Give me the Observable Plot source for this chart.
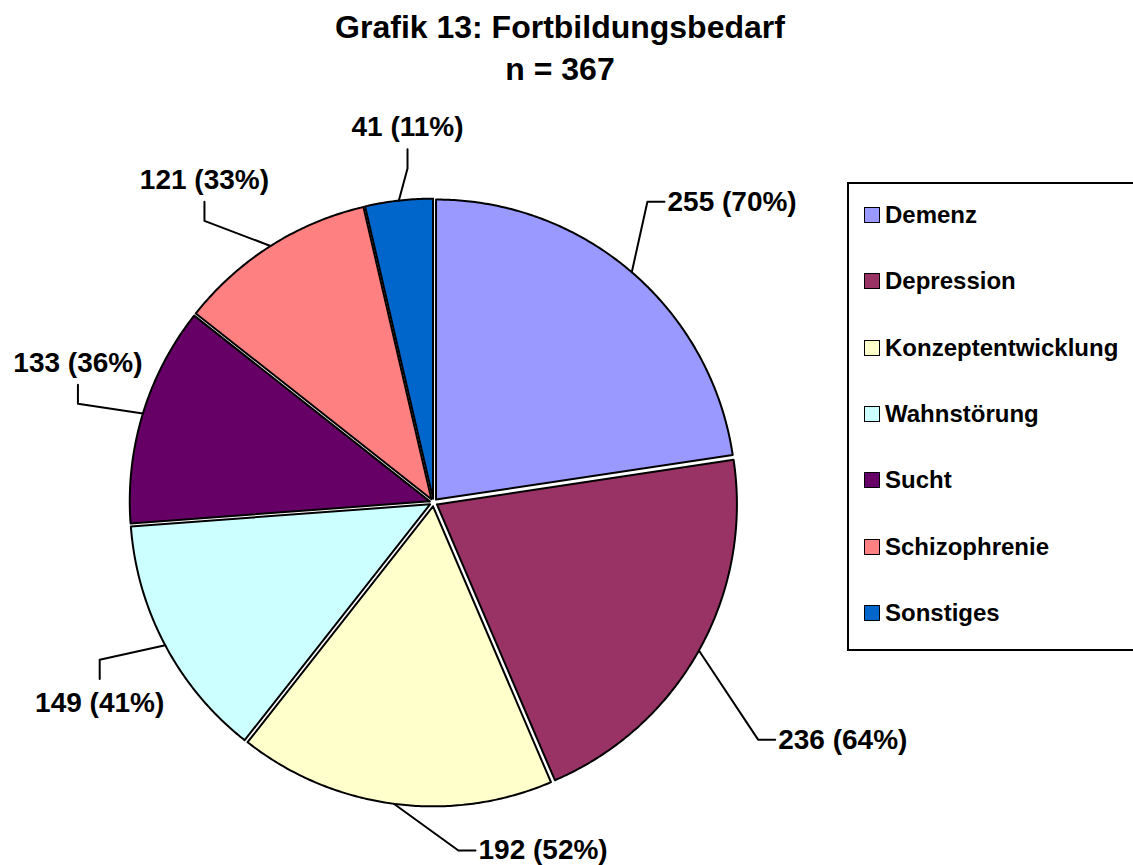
<!DOCTYPE html>
<html><head><meta charset="utf-8">
<script src="https://cdn.jsdelivr.net/npm/d3@7"></script>
<script src="https://cdn.jsdelivr.net/npm/@observablehq/plot@0.6"></script>
<style>
body{margin:0;background:#fff;font-family:"Liberation Sans",Arial,sans-serif;}
#wrap{position:relative;width:1133px;height:865px;overflow:hidden;background:#fff;}
#title{height:100px;box-sizing:border-box;padding-top:6px;padding-right:13px;text-align:center;font-weight:bold;font-size:32px;line-height:42px;color:#000;}
#legend{position:absolute;left:847px;top:182px;width:320px;height:469px;box-sizing:border-box;border:2px solid #000;background:#fff;}
.item{position:absolute;left:15px;height:26px;display:flex;align-items:center;font-weight:bold;font-size:24px;color:#000;white-space:nowrap;}
.sw{width:14px;height:14px;border:1.5px solid #000;margin-right:5px;flex:none;}
</style></head><body>
<div id="wrap">
<div id="title"><div>Grafik 13: Fortbildungsbedarf</div><div>n = 367</div></div>
<div id="chart"></div>
<div id="legend"></div>
</div>
<script>
// ---- data ----
const n = 367;
const categories = ["Demenz","Depression","Konzeptentwicklung","Wahnstörung","Sucht","Schizophrenie","Sonstiges"];
const counts = [255, 236, 192, 149, 133, 121, 41];
const percents = [70, 64, 52, 41, 36, 33, 11];
const colors = ["#9999FF","#993366","#FFFFCC","#CCFFFF","#660066","#FF8080","#0066CC"];

// ---- layout (label placement like the spreadsheet's best-fit) ----
const labelNudgeDeg = [-5.3, 7.0, -11.6, 2.8, -1.5, -6.7, 2.1];
const labelReach = [1.23, 1.34, 1.163, 1.23, 1.23, 1.21, 1.117];
const W = 1133, H = 765, R = 300, cx = 433, cy = 402;
const explode = 0.013, tail = 0.057, tick = 0.064;

const arcs = d3.pie().sort(null).value(d => d)(counts);
const pt = (a, r, o = [0, 0]) => ({x: o[0] + r * Math.sin(a), y: o[1] + r * Math.cos(a)});

const slicePts = [];
const leaderPts = [];
const rightLabels = [], upLabels = [], downLabels = [];
arcs.forEach((a, i) => {
  const cat = categories[i];
  const mid = (a.startAngle + a.endAngle) / 2;
  const off = [explode * Math.sin(mid), explode * Math.cos(mid)];
  const steps = Math.max(4, Math.ceil((a.endAngle - a.startAngle) / (Math.PI / 360)));
  slicePts.push({...pt(0, 0, off), cat});
  for (let k = 0; k <= steps; k++) {
    const ang = a.startAngle + (a.endAngle - a.startAngle) * k / steps;
    slicePts.push({...pt(ang, 1, off), cat});
  }
  slicePts.push({...pt(0, 0, off), cat});

  const la = mid + labelNudgeDeg[i] * Math.PI / 180;
  const start = pt(mid, 1 + explode);
  const elbow = pt(la, labelReach[i]);
  let end;
  const text = `${counts[i]} (${percents[i]}%)`;
  if (la < Math.PI) {
    end = {x: elbow.x + tail, y: elbow.y};
    rightLabels.push({...end, text});
  } else if (Math.cos(la) > 0) {
    end = {x: elbow.x, y: elbow.y + tick};
    upLabels.push({...end, text});
  } else {
    end = {x: elbow.x, y: elbow.y - tick};
    downLabels.push({...end, text});
  }
  leaderPts.push({...start, cat}, {...elbow, cat}, {...end, cat});
});

const font = "Liberation Sans, Arial, sans-serif";
const txt = {x: "x", y: "y", text: "text", fontSize: 28, fontWeight: "bold", fill: "black", fontFamily: font};

const chart = Plot.plot({
  width: W, height: H, margin: 0,
  style: {fontFamily: font, background: "white"},
  x: {domain: [-cx / R, (W - cx) / R], axis: null},
  y: {domain: [-(H - cy) / R, cy / R], axis: null},
  color: {domain: categories, range: colors},
  marks: [
    Plot.line(slicePts, {x: "x", y: "y", z: "cat", fill: "cat", stroke: "black", strokeWidth: 2, strokeLinejoin: "round", curve: "linear"}),
    Plot.line(leaderPts, {x: "x", y: "y", z: "cat", stroke: "black", strokeWidth: 2, curve: "linear"}),
    Plot.text(rightLabels, {...txt, textAnchor: "start", dx: 3}),
    Plot.text(upLabels, {...txt, textAnchor: "middle", lineAnchor: "bottom", dy: -13}),
    Plot.text(downLabels, {...txt, textAnchor: "middle", lineAnchor: "top", dy: 13})
  ]
});
document.getElementById("chart").appendChild(chart);

// legend
const legend = document.getElementById("legend");
categories.forEach((c, i) => {
  const row = document.createElement("div");
  row.className = "item";
  row.style.top = (33 + i * 66.3 - 2 - 13) + "px";
  const sw = document.createElement("span");
  sw.className = "sw";
  sw.style.background = colors[i];
  const lab = document.createElement("span");
  lab.textContent = c;
  row.appendChild(sw); row.appendChild(lab);
  legend.appendChild(row);
});
</script>
</body></html>
